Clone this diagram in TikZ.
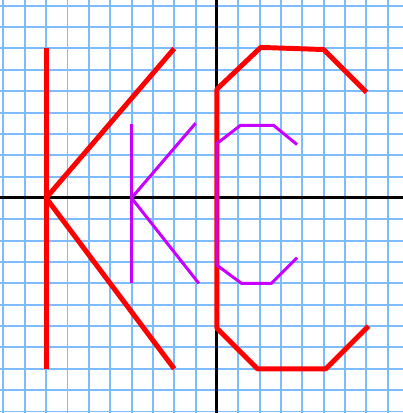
\documentclass[tikz,border=0pt]{standalone}
\usepackage{xcolor}
\usepackage{tikz}

\definecolor{gridblue}{RGB}{125,188,255}
\definecolor{kcpurple}{RGB}{200,0,255}

\begin{document}
\begin{tikzpicture}[
  x=0.5cm, y=0.5cm,
  gridline/.style={gridblue, line width=1.3pt},
  axisline/.style={black, line width=2pt},
  bigletter/.style={red, line width=3.3pt, line join=round},
  smallletter/.style={kcpurple, line width=2pt, line join=round}
]
\useasboundingbox (-10.16,-10.07) rectangle (8.71,9.27);
\fill[white] (-10.16,-10.07) rectangle (8.71,9.27);

% grid
\foreach \gx in {-10,...,8}
  \draw[gridline] (\gx,-10.07) -- (\gx,9.27);
\foreach \gy in {-10,...,9}
  \draw[gridline] (-10.16,\gy) -- (8.71,\gy);

% axes
\draw[axisline] (-10.16,0) -- (8.71,0);
\draw[axisline] (0,-10.07) -- (0,9.27);

% large K and C
\draw[bigletter] (-8,7) -- (-8,-8);
\draw[bigletter] (-2,7) -- (-8,0) -- (-2,-8);
\draw[bigletter] (7,4.95) -- (5,6.95) -- (2.05,7.05) -- (0,5.1)
  -- (0,-6.1) -- (1.9,-8) -- (5.1,-8) -- (7.1,-6);

% small K and C
\draw[smallletter] (-4,3.45) -- (-4,-4);
\draw[smallletter] (-1,3.5) -- (-4,0) -- (-0.85,-4);
\draw[smallletter] (3.75,2.5) -- (2.65,3.4) -- (1.1,3.4) -- (0,2.55)
  -- (0,-3.15) -- (1.15,-4) -- (2.55,-4) -- (3.75,-2.8);
\end{tikzpicture}
\end{document}
